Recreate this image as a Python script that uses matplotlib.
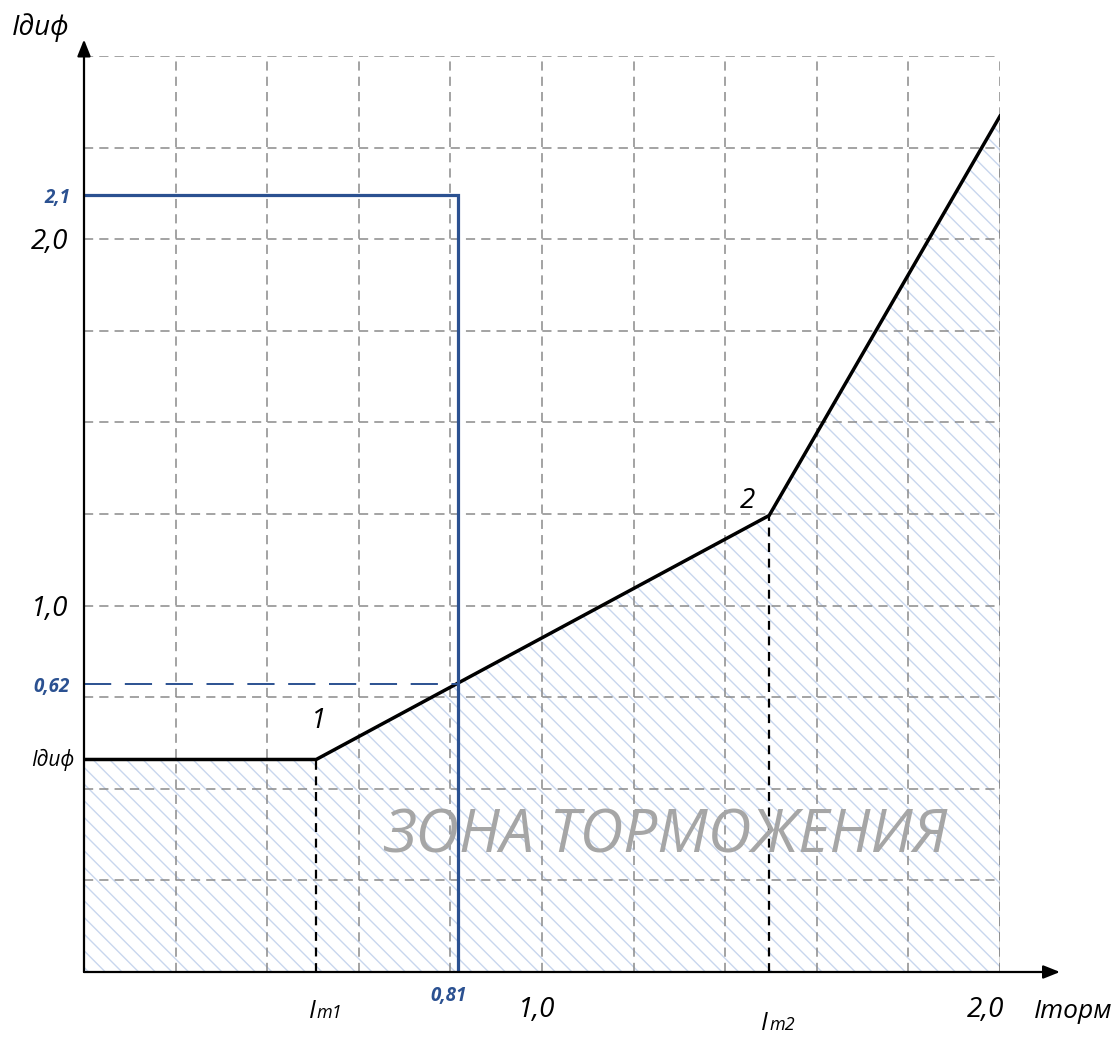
import matplotlib
matplotlib.use("Agg")
import matplotlib.pyplot as plt
import numpy as np

plt.rcParams["font.family"] = ["Open Sans", "DejaVu Sans"]
plt.rcParams["hatch.linewidth"] = 1.0

# characteristic breakpoints (Iторм, Iдиф)
curve_x = [0.0, 0.507, 1.496, 2.0]
curve_y = [0.58, 0.58, 1.246, 2.336]
point_names = ["1", "2"]

# operating point
op_x = 0.817
op_y = 0.785
op_top = 2.12

x_grid = np.arange(0, 2.01, 0.2)
y_grid = np.arange(0, 2.51, 0.25)

blue = "#2b5191"
grey = "#8a8a8a"

fig = plt.figure(figsize=(11.17, 10.37), dpi=100)
ax = fig.add_axes([84 / 1117, 65 / 1037, 916 / 1117, 916 / 1037])
ax.set_xlim(0, 2.0)
ax.set_ylim(0, 2.5)

ax.set_xticks(x_grid)
ax.set_yticks(y_grid)
ax.tick_params(length=0, labelbottom=False, labelleft=False)
ax.grid(True, color=grey, linestyle=(0, (6, 4)), linewidth=1.1)
for s in ax.spines.values():
    s.set_visible(False)

# hatched braking zone
ax.fill_between(curve_x, curve_y, 0, facecolor="none", edgecolor="#c8d6ee",
                hatch="\\\\", linewidth=0, zorder=1)
ax.plot([2.0, 2.0], [0, curve_y[-1]], color="#444444", lw=1.0, zorder=2)

# characteristic
ax.plot(curve_x, curve_y, color="black", lw=2.5, zorder=4,
        solid_joinstyle="miter")
ax.plot([curve_x[1]] * 2, [0, curve_y[1]], color="black", lw=1.6,
        linestyle=(0, (4, 3)), zorder=3)
ax.plot([curve_x[2]] * 2, [0, curve_y[2]], color="black", lw=1.6,
        linestyle=(0, (4, 3)), zorder=3)

# operating point lines
ax.plot([0, op_x, op_x], [op_top, op_top, 0], color=blue, lw=2.3, zorder=5,
        solid_joinstyle="miter")
ax.plot([0, op_x], [op_y, op_y], color=blue, lw=1.4,
        linestyle=(0, (14, 7)), zorder=5)

# axes with arrows
arrow = dict(arrowstyle="-|>,head_length=1.0,head_width=0.4", lw=1.6,
             color="black", shrinkA=0, shrinkB=0)
ax.annotate("", xy=(2.131, 0), xytext=(0, 0), arrowprops=arrow,
            annotation_clip=False, zorder=6)
ax.annotate("", xy=(0, 2.545), xytext=(0, 0), arrowprops=arrow,
            annotation_clip=False, zorder=6)

it = dict(style="italic", color="black")

# axis titles
ax.annotate("Iдиф", xy=(0, 2.5), xytext=(-43, 28), textcoords="offset pixels",
            fontsize=20, ha="center", va="center", annotation_clip=False, **it)
ax.annotate("Iторм", xy=(2.0, 0), xytext=(73, -40), textcoords="offset pixels",
            fontsize=19, ha="center", va="center", annotation_clip=False, **it)

# y labels
for val, txt in [(2.0, "2,0"), (1.0, "1,0")]:
    ax.annotate(txt, xy=(0, val), xytext=(-16, -3), textcoords="offset pixels",
                fontsize=20, ha="right", va="center", annotation_clip=False, **it)
ax.annotate("Iдиф", xy=(0, curve_y[0]), xytext=(-10, 0),
            textcoords="offset pixels", fontsize=15, ha="right", va="center",
            annotation_clip=False, **it)
for val, txt in [(op_top, "2,1"), (op_y, "0,62")]:
    ax.annotate(txt, xy=(0, val), xytext=(-14, -3), textcoords="offset pixels",
                fontsize=13.5, ha="right", va="center", weight="bold",
                style="italic", color=blue, annotation_clip=False)

# x labels
for val, txt, dx in [(1.0, "1,0", -5), (2.0, "2,0", -14)]:
    ax.annotate(txt, xy=(val, 0), xytext=(dx, -38), textcoords="offset pixels",
                fontsize=20, ha="center", va="center", annotation_clip=False, **it)
ax.annotate("0,81", xy=(op_x, 0), xytext=(-10, -24), textcoords="offset pixels",
            fontsize=13.5, ha="center", va="center", weight="bold",
            style="italic", color=blue, annotation_clip=False)
for xv, dy, sub in [(curve_x[1], -46, "т1"), (curve_x[2], -58, "т2")]:
    ax.annotate("I", xy=(xv, 0), xytext=(-1, dy), textcoords="offset pixels",
                fontsize=18, ha="right", va="baseline", annotation_clip=False, **it)
    ax.annotate(sub, xy=(xv, 0), xytext=(0, dy), textcoords="offset pixels",
                fontsize=13, ha="left", va="baseline", annotation_clip=False, **it)

# breakpoints
ax.annotate(point_names[0], xy=(curve_x[1], curve_y[1]), xytext=(2, 38),
            textcoords="offset pixels", fontsize=20, ha="center", va="center", **it)
ax.annotate(point_names[1], xy=(curve_x[2], curve_y[2]), xytext=(-22, 14),
            textcoords="offset pixels", fontsize=20, ha="center", va="center", **it)

ax.text(1.27, 0.37, "ЗОНА ТОРМОЖЕНИЯ", fontsize=43.5, style="italic",
        color="#a6a6a6", ha="center", va="center", zorder=7)

fig.savefig("out.png", dpi=100)
